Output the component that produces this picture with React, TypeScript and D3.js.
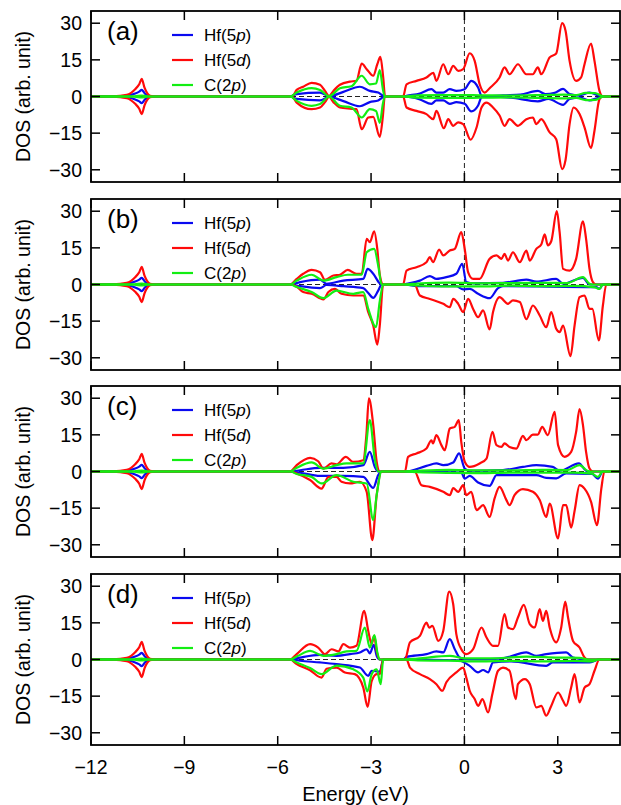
import React from 'react';
import * as d3 from 'd3';

type Pt = [number, number];

// ---------- axes / labels ----------
const energyTicks = [-12, -9, -6, -3, 0, 3];
const dosTicks = [-30, -15, 0, 15, 30];
const energyDomain: [number, number] = [-12, 5];
const dosDomain: [number, number] = [-35, 35];
const panelLabels = ['(a)', '(b)', '(c)', '(d)'];
const seriesBase = ['Hf(5', 'Hf(5', 'C(2'];
const seriesOrbital = ['p', 'd', 'p'];
const seriesColors = ['#0a0af0', '#ff0a0a', '#12ee12'];

// ---------- shared semicore peak near -10.4 eV (spin up magnitude) ----------
const lowBlue: Pt[] = [[-12, 0], [-11.2, 0.05], [-10.85, 0.3], [-10.58, 1.2], [-10.45, 2], [-10.37, 2.7], [-10.28, 1.4], [-10.2, 0.5], [-10.1, 0.1], [-9.9, 0]];
const lowRed: Pt[] = [[-12, 0], [-11.3, 0.1], [-10.85, 0.7], [-10.58, 3], [-10.45, 5], [-10.37, 7.2], [-10.28, 3.6], [-10.2, 1.5], [-10.1, 0.3], [-9.9, 0]];
const lowGreen: Pt[] = [[-12, 0], [-10.6, 0.1], [-10.37, 0.4], [-10.2, 0.1], [-9.9, 0]];

// ---------- panel (a) ----------
const aBlueUp: Pt[] = [[-5.6, 0], [-5.39, 1], [-4.64, 1.6], [-4.35, 0.1], [-3.89, 1.9], [-3.36, 4], [-3.04, 2.3], [-2.77, 1.6], [-2.56, 0], [-1.97, 0], [-1.86, 0.3], [-1.43, 1.2], [-1.06, 3], [-0.9, 1.6], [-0.68, 1.6], [-0.47, 3], [-0.26, 2.3], [0.01, 3], [0.22, 6.4], [0.44, 3.7], [0.55, 0.3], [0.65, 0], [1.24, 0.5], [1.8, 0.8], [2.36, 2.3], [2.6, 1], [2.9, 1.5], [3.17, 3.1], [3.38, 1], [3.7, 0.5], [4.02, 1.6], [4.3, 0.5], [4.45, 0]];
const aBlueDn: Pt[] = [[-5.6, 0], [-5.39, -1], [-4.64, -1.6], [-4.35, -0.1], [-3.89, -1.9], [-3.36, -4], [-3.04, -2.3], [-2.77, -1.6], [-2.56, 0], [-1.97, 0], [-1.43, -1.2], [-1.06, -3], [-0.9, -1.6], [-0.68, -1.6], [-0.47, -3], [-0.26, -2.3], [0.01, -3], [0.22, -6.1], [0.44, -3.7], [0.55, -0.3], [0.65, 0], [1.5, -0.5], [2.36, -2], [2.7, -1], [3.17, -3.4], [3.38, -1], [3.7, -0.5], [4.02, -1.6], [4.3, -0.5], [4.45, 0]];
const aRedUp: Pt[] = [[-5.6, 0], [-5.5, 0.5], [-5.39, 2.7], [-5.18, 4], [-4.91, 5.6], [-4.64, 4.8], [-4.48, 2.3], [-4.35, 0.2], [-4.21, 2.3], [-4.0, 4.8], [-3.68, 6.1], [-3.47, 6.4], [-3.3, 13.5], [-3.14, 11.2], [-2.93, 8.5], [-2.8, 13.2], [-2.7, 16.2], [-2.61, 7.8], [-2.55, 0], [-1.97, 0], [-1.86, 5], [-1.54, 6.4], [-1.22, 7.8], [-1.0, 9.7], [-0.9, 6.4], [-0.68, 13.2], [-0.52, 9.1], [-0.36, 12.5], [-0.2, 10.5], [-0.04, 11.2], [0.17, 17.7], [0.33, 14.6], [0.49, 5], [0.65, 1.6], [0.81, 3.4], [1.13, 7.8], [1.29, 11.9], [1.45, 9.1], [1.72, 13.2], [1.99, 9.1], [2.2, 9.1], [2.36, 11.9], [2.47, 9.1], [2.74, 16], [2.95, 17.6], [3.14, 30], [3.25, 26.9], [3.38, 14.6], [3.59, 6.4], [3.75, 7.8], [3.86, 13.2], [4.07, 21.7], [4.18, 14.6], [4.34, 2.3], [4.45, 0]];
const aRedDn: Pt[] = [[-5.6, 0], [-5.5, -0.5], [-5.39, -2.5], [-4.91, -5.2], [-4.64, -4.5], [-4.48, -2.3], [-4.35, -0.2], [-4.21, -2.3], [-4.0, -4.5], [-3.68, -5], [-3.47, -5.2], [-3.3, -13.4], [-3.09, -8.6], [-2.93, -8.3], [-2.72, -16.5], [-2.62, -8], [-2.56, 0], [-1.97, 0], [-1.86, -4.5], [-1.54, -5.9], [-1.22, -7.2], [-1.0, -9.3], [-0.9, -5.9], [-0.66, -13], [-0.52, -9.3], [-0.36, -12], [-0.2, -10.6], [-0.04, -11.3], [0.2, -17.7], [0.39, -12.7], [0.55, -4.5], [0.71, -2.5], [0.92, -4.5], [1.13, -7.8], [1.29, -12], [1.45, -9.3], [1.72, -12], [1.99, -9.3], [2.2, -8.6], [2.31, -11.3], [2.47, -9.3], [2.74, -14.7], [2.95, -17.5], [3.14, -29.7], [3.25, -26], [3.38, -11.3], [3.51, -4.5], [3.7, -7.2], [3.86, -12.6], [4.07, -21.1], [4.18, -14], [4.34, -1.1], [4.45, 0]];
const aGreenUp: Pt[] = [[-5.6, 0], [-5.39, 1.6], [-4.91, 3.4], [-4.64, 2.7], [-4.35, 0.1], [-4.0, 3.4], [-3.63, 4.2], [-3.3, 8.5], [-3.04, 5], [-2.84, 5.3], [-2.72, 10.8], [-2.62, 3], [-2.56, 0], [-1.97, 0], [-1.5, 0.5], [-0.5, 0.6], [0.5, 0.5], [1.5, 0.4], [2.5, 0.6], [3.2, 0.8], [3.6, 0.6], [3.9, 1.5], [4.2, 1.4], [4.4, 0.3], [4.5, 0]];
const aGreenDn: Pt[] = [[-5.6, 0], [-5.39, -1.8], [-4.91, -3.8], [-4.64, -3.1], [-4.35, -0.1], [-4.0, -3.8], [-3.63, -4.5], [-3.3, -8.6], [-3.04, -5.2], [-2.84, -5.9], [-2.72, -10.8], [-2.62, -3], [-2.56, 0], [-1.97, 0], [-1.5, -0.5], [-0.5, -0.6], [0.5, -0.5], [1.5, -0.4], [2.5, -0.6], [3.2, -0.8], [3.6, -0.6], [3.9, -1.5], [4.2, -1.4], [4.4, -0.3], [4.5, 0]];

// ---------- panel (b) ----------
const bBlueUp: Pt[] = [[-5.6, 0], [-5.28, 1], [-4.64, 2], [-4.43, 0.3], [-3.89, 1.6], [-3.25, 2.3], [-3.11, 6.4], [-2.93, 4.4], [-2.72, 0.5], [-2.61, 0], [-1.97, 0], [-1.86, 0.3], [-1.43, 1.6], [-1.11, 3.4], [-0.9, 2.3], [-0.58, 3], [-0.26, 4.4], [-0.07, 8.5], [0.06, 1], [0.3, 0.5], [1.24, 0.7], [1.99, 2], [2.31, 1.2], [2.95, 2.3], [3.17, 0.3], [3.81, 2.7], [4.02, 0]];
const bBlueDn: Pt[] = [[-5.6, 0], [-5.28, -0.7], [-4.64, -1.5], [-4.43, -0.2], [-3.89, -0.7], [-3.25, -1.5], [-3.09, -3.5], [-2.93, -5.5], [-2.77, -2.5], [-2.66, 0], [-1.97, 0], [-1.43, -0.7], [-0.26, -0.7], [-0.04, -2], [0.17, -1.8], [0.44, -3.8], [0.81, -5.6], [1.08, -1.5], [1.24, -0.7], [2.31, -0.8], [4.24, -1.1], [4.34, -1.8], [4.45, 0]];
const bRedUp: Pt[] = [[-5.6, 0], [-5.39, 2.3], [-5.18, 4.4], [-4.91, 6], [-4.64, 5], [-4.48, 1.9], [-4.21, 3.7], [-4.0, 4], [-3.75, 6], [-3.47, 4.4], [-3.3, 4.4], [-3.14, 18.7], [-3.04, 17.3], [-2.9, 21.8], [-2.8, 14.6], [-2.72, 4], [-2.61, 0], [-1.97, 0], [-1.86, 5.7], [-1.54, 7.1], [-1.22, 9.1], [-1.11, 11.2], [-1.01, 9.1], [-0.81, 14.3], [-0.68, 11.9], [-0.47, 13.9], [-0.31, 14.6], [-0.1, 21.4], [0.01, 14.6], [0.12, 5], [0.28, 2.3], [0.49, 2.3], [0.81, 10.5], [1.03, 11.9], [1.19, 10.5], [1.29, 12.5], [1.4, 9.8], [1.56, 13.2], [1.78, 9.1], [1.99, 13.9], [2.1, 9.8], [2.31, 14.6], [2.47, 16.4], [2.58, 20.5], [2.68, 16], [2.79, 17.7], [2.97, 30], [3.06, 21.4], [3.17, 6.4], [3.38, 5.7], [3.59, 10.5], [3.81, 25.8], [3.91, 18.7], [4.02, 6.4], [4.13, 1.0], [4.24, 0]];
const bRedDn: Pt[] = [[-5.6, 0], [-5.39, -0.8], [-5.18, -3.1], [-4.91, -3.8], [-4.53, -6.1], [-4.37, -3.1], [-4.16, -1.8], [-3.95, -3.8], [-3.57, -4.5], [-3.25, -4.5], [-3.09, -11.3], [-2.93, -16.8], [-2.8, -24.6], [-2.72, -16.8], [-2.61, 0], [-1.6, 0], [-1.43, -4.5], [-1.11, -5.9], [-0.68, -7.9], [-0.47, -9.3], [-0.36, -5.9], [-0.2, -7.9], [-0.04, -11.3], [0.12, -5.9], [0.28, -10], [0.44, -13.4], [0.6, -10.6], [0.81, -18.4], [0.92, -11.3], [1.13, -5.2], [1.4, -7.9], [1.56, -6.5], [1.78, -7.2], [1.99, -14.2], [2.2, -8.6], [2.42, -12.7], [2.63, -17.5], [2.79, -11.3], [2.95, -18.1], [3.06, -19.5], [3.17, -16.8], [3.41, -29.3], [3.54, -16.8], [3.7, -5.2], [3.86, -4.5], [4.02, -10], [4.11, -10], [4.32, -22.9], [4.45, -8.6], [4.56, 0]];
const bGreenUp: Pt[] = [[-5.6, 0], [-5.39, 1.6], [-4.91, 4], [-4.53, 1.6], [-4.11, 3], [-3.75, 4], [-3.3, 4], [-3.14, 13.2], [-2.9, 14.6], [-2.77, 7.8], [-2.66, 0], [-1.97, 0], [-1.5, 0.4], [-0.5, 0.8], [0.5, 0.5], [1.5, 0.6], [2.5, 0.7], [3.3, 0.6], [3.81, 3], [4.02, 0.3], [4.1, 0]];
const bGreenDn: Pt[] = [[-5.6, 0], [-5.39, -1], [-4.91, -3.1], [-4.53, -5.6], [-4.11, -2.5], [-3.57, -3.8], [-3.25, -3.1], [-3.09, -10], [-2.84, -17.5], [-2.72, -6.8], [-2.61, 0], [-1.97, 0], [-1.5, -0.4], [-0.5, -0.8], [0.5, -0.8], [1.5, -0.5], [2.5, -0.7], [3.5, -0.6], [4.2, -1.2], [4.34, -1.8], [4.45, 0]];

// ---------- panel (c) ----------
const cBlueUp: Pt[] = [[-5.6, 0], [-5.28, 0.5], [-4.64, 1.5], [-3.89, 1.5], [-3.25, 2.6], [-3.04, 8], [-2.88, 1.9], [-2.77, 0], [-1.86, 0], [-1.22, 2.3], [-0.9, 3.3], [-0.68, 2.6], [-0.36, 3.7], [-0.17, 7.4], [0.01, 1.2], [0.17, 0.3], [1.24, 0.6], [1.88, 1.9], [2.31, 2.6], [2.84, 1.9], [3.06, 0.3], [3.68, 3.3], [3.91, 0.3], [4.0, 0]];
const cBlueDn: Pt[] = [[-5.6, 0], [-5.28, -0.5], [-4.64, -1.8], [-3.89, -1.8], [-3.25, -2.2], [-2.93, -6.7], [-2.77, -1.5], [-2.66, 0], [-1.86, 0], [-0.1, -0.4], [0.01, -2.9], [0.17, -1.8], [0.44, -4.5], [0.81, -5.9], [1.03, -1.5], [2.31, -1.5], [2.63, -2.6], [2.95, -2.8], [3.27, -0.8], [4.1, -1], [4.29, -2.9], [4.45, 0]];
const cRedUp: Pt[] = [[-5.6, 0], [-5.39, 2.6], [-4.96, 5.6], [-4.7, 4.2], [-4.53, 1.2], [-4.27, 3.3], [-4.11, 2.9], [-3.81, 6], [-3.57, 3.9], [-3.25, 4.6], [-3.15, 15], [-3.07, 29.9], [-2.93, 19], [-2.82, 4], [-2.72, 0], [-1.91, 0], [-1.81, 6], [-1.54, 7.4], [-1.22, 9.4], [-1.06, 12.8], [-1.01, 11.5], [-0.9, 14.9], [-0.74, 10.8], [-0.63, 8.7], [-0.47, 17.6], [-0.31, 18.3], [-0.18, 21], [-0.1, 12], [0.01, 4], [0.17, 1.9], [0.49, 3.3], [0.71, 5.3], [0.9, 16.2], [1.03, 10.8], [1.19, 10.1], [1.29, 11.5], [1.45, 10], [1.67, 9.4], [1.88, 14.6], [1.99, 12.8], [2.2, 15.1], [2.36, 15.1], [2.5, 18.3], [2.68, 14.9], [2.9, 24.4], [3.01, 10.8], [3.22, 6], [3.43, 8], [3.59, 16.2], [3.7, 25.5], [3.81, 19], [3.91, 8], [4.02, 1.2], [4.13, 0]];
const cRedDn: Pt[] = [[-5.6, 0], [-5.39, -0.8], [-4.96, -3.5], [-4.59, -7], [-4.37, -2.2], [-4.11, -2.2], [-3.95, -4.2], [-3.68, -4.9], [-3.36, -4.2], [-3.14, -8.3], [-2.96, -28.1], [-2.82, -9.7], [-2.66, 0], [-1.6, 0], [-1.38, -5.6], [-1.11, -6.3], [-0.68, -8.3], [-0.47, -9.7], [-0.36, -6.8], [-0.2, -8.3], [-0.04, -5.6], [0.06, -9.7], [0.22, -8.3], [0.39, -15.8], [0.6, -13.8], [0.81, -18.6], [0.97, -11], [1.13, -6.3], [1.35, -11.7], [1.45, -13.8], [1.61, -9.7], [1.88, -7.2], [2.2, -8.3], [2.42, -11.7], [2.63, -18.6], [2.74, -13.1], [3.01, -27.4], [3.17, -13.8], [3.27, -13.8], [3.43, -23], [3.54, -16.2], [3.7, -5.6], [3.86, -7], [4.07, -12.4], [4.26, -22], [4.4, -7], [4.5, 0]];
const cGreenUp: Pt[] = [[-5.6, 0], [-5.39, 1.5], [-4.91, 3.7], [-4.53, 1.2], [-4.11, 2.6], [-3.79, 3.3], [-3.25, 3.3], [-3.04, 21], [-2.88, 5], [-2.77, 0], [-1.97, 0], [-1.5, 0.3], [-0.5, 0.7], [0.5, 0.5], [1.5, 0.5], [2.5, 0.7], [3.3, 0.6], [3.7, 2.6], [3.95, 0.3], [4.05, 0]];
const cGreenDn: Pt[] = [[-5.6, 0], [-5.39, -1], [-4.91, -2.2], [-4.59, -4.9], [-4.11, -1.5], [-3.57, -4.2], [-3.14, -4.9], [-2.93, -19.9], [-2.82, -9.7], [-2.66, 0], [-1.97, 0], [-1.5, -0.3], [-0.5, -0.6], [0.5, -0.7], [1.5, -0.5], [2.5, -0.5], [3.5, -0.5], [4.1, -0.9], [4.29, -2.2], [4.45, 0]];

// ---------- panel (d) ----------
const dBlueUp: Pt[] = [[-5.6, 0], [-5.28, 0.8], [-4.64, 1.9], [-4.11, 1.5], [-3.68, 2.2], [-3.36, 2.9], [-3.14, 4.2], [-3.04, 2.5], [-2.91, 6], [-2.82, 1.5], [-2.72, 0], [-1.97, 0], [-1.86, 1.1], [-1.22, 2.2], [-0.9, 3.3], [-0.68, 2.9], [-0.47, 8.3], [-0.31, 4.2], [-0.15, 0.8], [0.17, 0], [1.24, 0.5], [1.99, 2.9], [2.31, 1.5], [2.63, 2.2], [3.27, 2.9], [3.49, 0.8], [3.91, 0]];
const dBlueDn: Pt[] = [[-5.6, 0], [-5.28, -0.5], [-4.64, -1.2], [-4.11, -1.9], [-3.36, -3.3], [-3.09, -6.7], [-2.98, -4.6], [-2.72, -5], [-2.61, 0], [-1.97, 0], [-0.2, -0.3], [0.17, -2.6], [0.44, -5.3], [0.6, -4.3], [0.76, -5.3], [0.92, -1.2], [1.5, -0.8], [2.63, -2.6], [2.84, -1.2], [4.02, -1.2], [4.2, -0.5], [4.3, 0]];
const dRedUp: Pt[] = [[-5.6, 0], [-5.39, 2.2], [-4.96, 6.3], [-4.7, 4.9], [-4.48, 2.2], [-4.27, 4.2], [-4.05, 3.3], [-3.89, 6.3], [-3.68, 4.9], [-3.47, 5.6], [-3.22, 19.9], [-3.09, 11.7], [-2.98, 6.3], [-2.9, 9.7], [-2.82, 3.5], [-2.72, 0], [-1.91, 0], [-1.75, 7], [-1.43, 9.7], [-1.22, 15.1], [-1.13, 13], [-1.03, 13.8], [-0.84, 7.6], [-0.68, 11.7], [-0.49, 27.8], [-0.36, 22.6], [-0.26, 10.4], [-0.1, 4.2], [0.06, 2.2], [0.28, 4.2], [0.55, 13.1], [0.71, 9], [0.92, 5.6], [1.08, 5.6], [1.29, 18.6], [1.4, 13.1], [1.56, 12.4], [1.72, 17.2], [1.91, 22.4], [2.1, 14.5], [2.26, 13.1], [2.42, 20.6], [2.52, 15.8], [2.63, 19.9], [2.74, 13.1], [2.95, 7], [3.11, 13.1], [3.24, 23.7], [3.33, 17.2], [3.49, 7.6], [3.7, 4.9], [3.86, 0.8], [3.97, 0]];
const dRedDn: Pt[] = [[-5.6, 0], [-5.39, -1.9], [-4.96, -4.4], [-4.59, -7.4], [-4.43, -3.8], [-4.11, -3.3], [-3.84, -5.3], [-3.52, -6], [-3.25, -11.5], [-3.11, -19.4], [-2.98, -8.9], [-2.82, -6], [-2.72, -6], [-2.61, 0], [-1.86, 0], [-1.75, -3.3], [-1.43, -6], [-1.11, -8], [-0.9, -10.1], [-0.71, -12.8], [-0.58, -9.3], [-0.26, -5.3], [-0.04, -3.3], [0.06, -7.4], [0.17, -12.8], [0.33, -16.2], [0.44, -19], [0.58, -16.2], [0.76, -21.7], [0.9, -14], [1.08, -4.6], [1.24, -3.3], [1.45, -4.6], [1.65, -16.2], [1.72, -10.1], [1.94, -8], [2.1, -10.1], [2.31, -19.6], [2.47, -19], [2.63, -23], [2.79, -19], [3.01, -13.5], [3.17, -16.9], [3.27, -19], [3.43, -11.5], [3.54, -6], [3.7, -17.6], [3.86, -11.5], [4.02, -10.1], [4.18, -4.6], [4.34, 0]];
const dGreenUp: Pt[] = [[-5.6, 0], [-5.39, 1.2], [-4.96, 3.5], [-4.53, 1.5], [-4.11, 2.2], [-3.79, 3.3], [-3.47, 3.5], [-3.2, 13.1], [-3.04, 4.9], [-2.89, 10], [-2.8, 3], [-2.72, 0], [-1.97, 0], [-1.5, 0.4], [-0.47, 1.5], [0, 0.5], [1, 0.5], [2, 1.2], [3, 0.8], [3.7, 0.7], [3.97, 0]];
const dGreenDn: Pt[] = [[-5.6, 0], [-5.39, -1.2], [-4.96, -3.5], [-4.59, -6], [-4.11, -2.5], [-3.57, -4], [-3.25, -7.4], [-3.12, -13.1], [-2.98, -6], [-2.82, -4], [-2.69, -10.1], [-2.61, 0], [-1.97, 0], [-1.5, -0.4], [-0.5, -0.5], [0.5, -0.8], [1.5, -0.6], [2.5, -0.8], [3.5, -0.6], [4.1, -0.8], [4.3, 0]];

const panelsData = [
  [[aBlueUp, aBlueDn], [aRedUp, aRedDn], [aGreenUp, aGreenDn]],
  [[bBlueUp, bBlueDn], [bRedUp, bRedDn], [bGreenUp, bGreenDn]],
  [[cBlueUp, cBlueDn], [cRedUp, cRedDn], [cGreenUp, cGreenDn]],
  [[dBlueUp, dBlueDn], [dRedUp, dRedDn], [dGreenUp, dGreenDn]],
];
const lowPeaks = [lowBlue, lowRed, lowGreen];

// ---------- layout ----------
const W = 621;
const H = 805;
const left = 91;
const right = 620;
const panelTops = [11, 199, 386, 574];
const panelH = 171;
const FONT = '"Liberation Sans", Arial, Helvetica, sans-serif';

const x = d3.scaleLinear().domain(energyDomain).range([left, right]);

function fullCurve(low: Pt[], main: Pt[], sign: number): Pt[] {
  return [...low.map((p) => [p[0], sign * p[1]] as Pt), ...main, [5, 0] as Pt];
}

const fmt = (t: number) => (t < 0 ? `\u2212${Math.abs(t)}` : `${t}`);

export default function App() {
  return (
    <svg width={W} height={H} style={{ position: 'absolute', left: 0, top: 0, background: '#fff' }} fontFamily={FONT}>
      {panelTops.map((top, pi) => {
        const y = d3.scaleLinear().domain(dosDomain).range([top + panelH, top]);
        const line = d3
          .line<Pt>()
          .x((d) => x(d[0]))
          .y((d) => y(d[1]))
          .curve(d3.curveMonotoneX);
        const clipId = `clip${pi}`;
        return (
          <g key={pi}>
            <defs>
              <clipPath id={clipId}>
                <rect x={left} y={top} width={right - left} height={panelH} />
              </clipPath>
            </defs>
            <line x1={left} x2={right} y1={y(0)} y2={y(0)} stroke="#222" strokeWidth={1} strokeDasharray="5,3" />
            <line x1={x(0)} x2={x(0)} y1={top} y2={top + panelH} stroke="#222" strokeWidth={1} strokeDasharray="5,3" />
            <g clipPath={`url(#${clipId})`}>
              {panelsData[pi].map((pair, si) => (
                <g key={si}>
                  <path d={line(fullCurve(lowPeaks[si], pair[0], 1)) || ''} fill="none" stroke={seriesColors[si]} strokeWidth={2.2} strokeLinejoin="round" />
                  <path d={line(fullCurve(lowPeaks[si], pair[1], -1)) || ''} fill="none" stroke={seriesColors[si]} strokeWidth={2.2} strokeLinejoin="round" />
                </g>
              ))}
            </g>
            {dosTicks.map((t) => (
              <g key={`y${t}`}>
                <line x1={left} x2={left + 9} y1={y(t)} y2={y(t)} stroke="#000" strokeWidth={1.5} />
                <line x1={right - 9} x2={right} y1={y(t)} y2={y(t)} stroke="#000" strokeWidth={1.5} />
                <text x={82} y={y(t)} dy="0.36em" textAnchor="end" fontSize={19.5}>
                  {fmt(t)}
                </text>
              </g>
            ))}
            {energyTicks.map((t) => (
              <g key={`x${t}`}>
                <line x1={x(t)} x2={x(t)} y1={top + panelH} y2={top + panelH - 9} stroke="#000" strokeWidth={1.5} />
                <line x1={x(t)} x2={x(t)} y1={top} y2={top + 9} stroke="#000" strokeWidth={1.5} />
                {pi === 3 && (
                  <text x={x(t)} y={774} textAnchor="middle" fontSize={19.5}>
                    {fmt(t)}
                  </text>
                )}
              </g>
            ))}
            <rect x={left} y={top} width={right - left} height={panelH} fill="none" stroke="#000" strokeWidth={1.8} />
            <text x={107} y={top + 29} fontSize={26}>
              {panelLabels[pi]}
            </text>
            {seriesBase.map((b, si) => (
              <g key={`lg${si}`}>
                <line x1={172} x2={193} y1={top + 24 + si * 25} y2={top + 24 + si * 25} stroke={seriesColors[si]} strokeWidth={2.2} />
                <text x={204} y={top + 24 + si * 25} dy="0.36em" fontSize={17}>
                  {b}
                  <tspan fontStyle="italic">{seriesOrbital[si]}</tspan>)
                </text>
              </g>
            ))}
            <text transform={`translate(23,${top + panelH / 2}) rotate(-90)`} textAnchor="middle" dy="0.35em" fontSize={19.5}>
              DOS (arb. unit)
            </text>
          </g>
        );
      })}
      <text x={(left + right) / 2} y={801} textAnchor="middle" fontSize={20}>
        Energy (eV)
      </text>
    </svg>
  );
}
